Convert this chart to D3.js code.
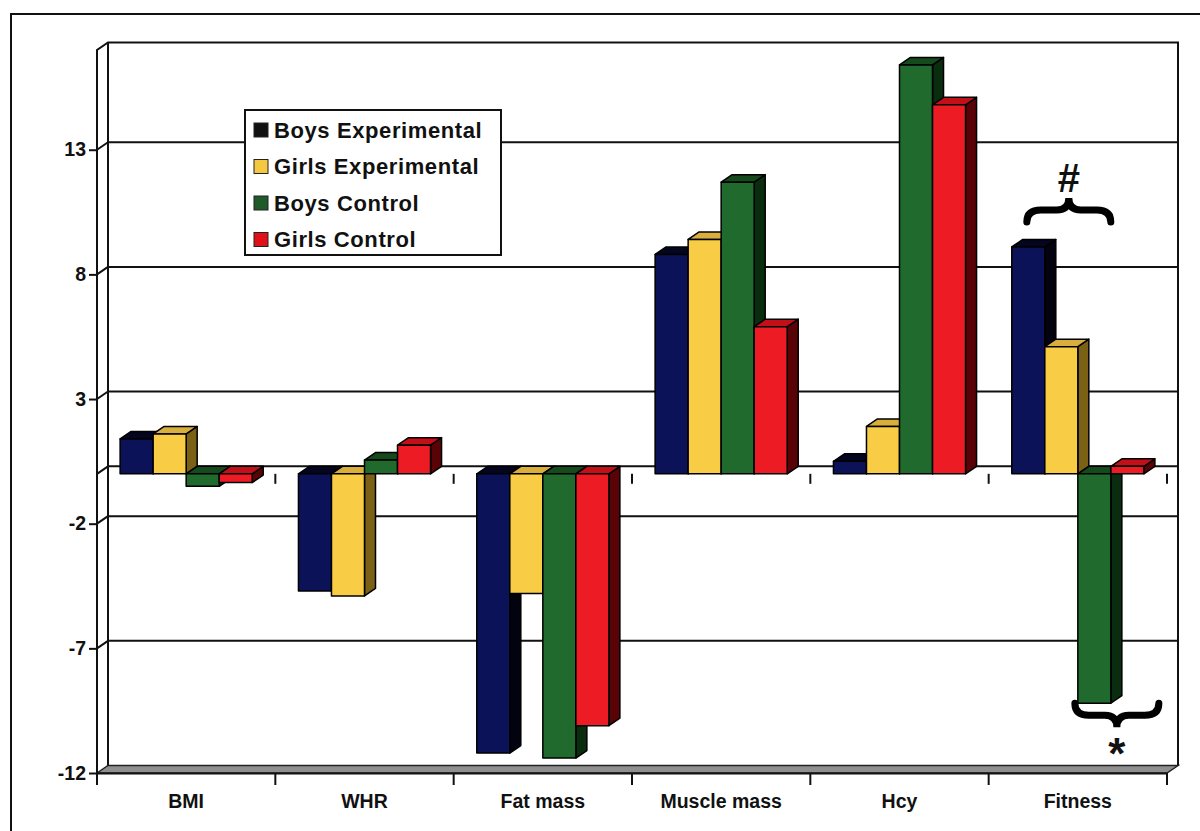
<!DOCTYPE html>
<html>
<head>
<meta charset="utf-8">
<script src="https://cdn.jsdelivr.net/npm/d3@7"></script>
<style>
  body { margin: 0; background: #fff; }
  text { font-family: "Liberation Sans", Arial, sans-serif; font-weight: bold; fill: #111; }
</style>
</head>
<body>
<svg id="chart"></svg>
<script>
//data
const categories = ['BMI', 'WHR', 'Fat mass', 'Muscle mass', 'Hcy', 'Fitness'];
const series = ['Boys Experimental', 'Girls Experimental', 'Boys Control', 'Girls Control'];
const boysExp = [1.4, -4.7, -11.2, 8.8, 0.5, 9.1];
const girlsExp = [1.6, -4.9, -4.8, 9.4, 1.9, 5.1];
const boysCtrl = [-0.5, 0.55, -11.4, 11.7, 16.4, -9.2];
const girlsCtrl = [-0.35, 1.15, -10.1, 5.9, 14.8, 0.3];
const yTicks = [-12, -7, -2, 3, 8, 13];

const values = [boysExp, girlsExp, boysCtrl, girlsCtrl];

//colours: front, top, side
const fronts = ['#0c1258', '#f8cd45', '#1f6a2c', '#ec1b24'];
const tops = ['#03061e', '#d8ae3c', '#154a1d', '#c30f18'];
const sides = ['#02030f', '#7a6115', '#0a2c0f', '#5a0307'];
const swatches = ['#111111', '#f5c842', '#1f5a2a', '#e01018'];

const width = 1200;
const height = 831;
const dx = 11, dy = 7.5;  //3d depth offset

const svg = d3.select('#chart')
  .attr('width', width)
  .attr('height', height);

//scales
const x0 = d3.scaleBand().domain(categories).range([97, 1167]).padding(0);
const x1 = d3.scaleBand().domain(series).range([0, x0.bandwidth()])
  .paddingInner(0).paddingOuter(0.7);
const y = d3.scaleLinear().domain([-12, 17]).range([773, 50]);

const left = x0.range()[0], right = x0.range()[1];
const yMin = y.domain()[0], yMax = y.domain()[1];

//outer frame
svg.append('rect')
  .attr('x', 11).attr('y', 14)
  .attr('width', 1210).attr('height', 840)
  .attr('fill', 'none').attr('stroke', '#111').attr('stroke-width', 2);

//floor at the bottom of the scale
svg.append('path')
  .attr('d', `M${left},${y(yMin)} L${left + dx},${y(yMin) - dy} L${right + dx},${y(yMin) - dy} L${right},${y(yMin)} Z`)
  .attr('fill', '#8f8f8f').attr('stroke', '#222').attr('stroke-width', 1.5);

//gridlines on back wall + left wall
const gridVals = yTicks.filter(v => v > yMin).concat([0]);
const grid = svg.append('g').attr('stroke', '#111').attr('stroke-width', 2);
gridVals.forEach(v => {
  grid.append('line')
    .attr('x1', left + dx).attr('x2', right + dx)
    .attr('y1', y(v) - dy).attr('y2', y(v) - dy);
  grid.append('line')
    .attr('x1', left).attr('x2', left + dx)
    .attr('y1', y(v)).attr('y2', y(v) - dy);
});

//walls
const walls = svg.append('g').attr('stroke', '#111').attr('stroke-width', 2).attr('fill', 'none');
walls.append('path')
  .attr('d', `M${left},${y(yMin)} L${left},${y(yMax)} L${left + dx},${y(yMax) - dy} L${right + dx},${y(yMax) - dy} L${right + dx},${y(yMin) - dy}`);
walls.append('line')
  .attr('x1', left + dx).attr('x2', left + dx)
  .attr('y1', y(yMax) - dy).attr('y2', y(yMin) - dy);

//category ticks at zero
const bounds = categories.map(c => x0(c) + x0.bandwidth()).concat([left]);
svg.append('g').selectAll('line')
  .data(bounds)
  .enter()
  .append('line')
    .attr('x1', d => d).attr('x2', d => d)
    .attr('y1', y(0)).attr('y2', y(0) + 10)
    .attr('stroke', '#111').attr('stroke-width', 2);

//bars
const bars = svg.append('g').attr('stroke', '#000').attr('stroke-width', 1.5).attr('stroke-linejoin', 'round');
categories.forEach((c, ci) => {
  series.forEach((s, si) => {
    const v = values[si][ci];
    const xa = x0(c) + x1(s);
    const xb = xa + x1.bandwidth();
    const yt = y(Math.max(v, 0));
    const yb = y(Math.min(v, 0));
    //side
    bars.append('path')
      .attr('d', `M${xb},${yt} L${xb + dx},${yt - dy} L${xb + dx},${yb - dy} L${xb},${yb} Z`)
      .attr('fill', sides[si]);
    //top
    bars.append('path')
      .attr('d', `M${xa},${yt} L${xa + dx},${yt - dy} L${xb + dx},${yt - dy} L${xb},${yt} Z`)
      .attr('fill', tops[si]);
    //front
    bars.append('rect')
      .attr('x', xa).attr('y', yt)
      .attr('width', x1.bandwidth()).attr('height', Math.max(yb - yt, 0.5))
      .attr('fill', fronts[si]);
  });
});

//x axis (front edge of floor)
const xAxis = d3.axisBottom(x0).tickSize(0).tickPadding(21);
const gx = svg.append('g')
  .attr('transform', `translate(0,${y(yMin)})`)
  .call(xAxis);
gx.select('.domain').attr('stroke', '#111').attr('stroke-width', 2);
gx.selectAll('text').style('font-size', '19.5px').style('font-family', '"Liberation Sans", Arial, sans-serif').style('font-weight', 'bold').attr('fill', '#111');
svg.append('g').selectAll('line')
  .data(bounds)
  .enter()
  .append('line')
    .attr('x1', d => d).attr('x2', d => d)
    .attr('y1', y(yMin)).attr('y2', y(yMin) + 12)
    .attr('stroke', '#111').attr('stroke-width', 2);

//y axis
const yAxis = d3.axisLeft(y).tickValues(yTicks).tickFormat(d => String(d)).tickSize(8).tickPadding(3);
const gy = svg.append('g')
  .attr('transform', `translate(${left},0)`)
  .call(yAxis);
gy.select('.domain').remove();
gy.selectAll('line').attr('stroke', '#111').attr('stroke-width', 2);
gy.selectAll('text').style('font-size', '19.5px').style('font-family', '"Liberation Sans", Arial, sans-serif').style('font-weight', 'bold').attr('fill', '#111');

//legend
const legend = svg.append('g').attr('transform', 'translate(245,110)');
legend.append('rect')
  .attr('width', 256).attr('height', 145)
  .attr('fill', '#fff').attr('stroke', '#111').attr('stroke-width', 2);
const item = legend.selectAll('g.item')
  .data(series)
  .enter()
  .append('g')
    .attr('class', 'item')
    .attr('transform', (d, i) => `translate(9,${20 + i * 36.5})`);
item.append('rect')
  .attr('x', 0).attr('y', -7)
  .attr('width', 14).attr('height', 14)
  .attr('fill', (d, i) => swatches[i])
  .attr('stroke', '#222').attr('stroke-width', 1);
item.append('text')
  .attr('x', 20).attr('dy', '0.36em')
  .style('font-size', '22px')
  .style('letter-spacing', '0.6px')
  .text(d => d);

//significance braces
function brace(xl, xr, yEnd, dir) {
  const cx = (xl + xr) / 2, ym = yEnd + dir * 12, tip = yEnd + dir * 24;
  return `M${xl},${yEnd} Q${xl},${ym} ${xl + 14},${ym} L${cx - 12},${ym} Q${cx},${ym} ${cx},${tip}` +
    ` Q${cx},${ym} ${cx + 12},${ym} L${xr - 14},${ym} Q${xr},${ym} ${xr},${yEnd}`;
}
const fx = x0('Fitness');
const hashCx = fx + x1('Girls Experimental') + 24;
const hashY = y(boysExp[5]) - 25;
svg.append('path')
  .attr('d', brace(hashCx - 42, hashCx + 42, hashY, -1))
  .attr('fill', 'none').attr('stroke', '#000').attr('stroke-width', 7).attr('stroke-linecap', 'round');
svg.append('text')
  .attr('x', hashCx).attr('y', hashY - 44)
  .attr('text-anchor', 'middle').attr('dy', '0.35em')
  .style('font-size', '40px')
  .text('#');

const starCx = fx + x1('Girls Control') + 6;
const starY = y(boysCtrl[5]);
svg.append('path')
  .attr('d', brace(starCx - 42, starCx + 42, starY, 1))
  .attr('fill', 'none').attr('stroke', '#000').attr('stroke-width', 7).attr('stroke-linecap', 'round');
svg.append('text')
  .attr('x', starCx).attr('y', starY + 50)
  .attr('text-anchor', 'middle').attr('dy', '0.35em')
  .style('font-size', '44px')
  .text('*');
</script>
</body>
</html>
